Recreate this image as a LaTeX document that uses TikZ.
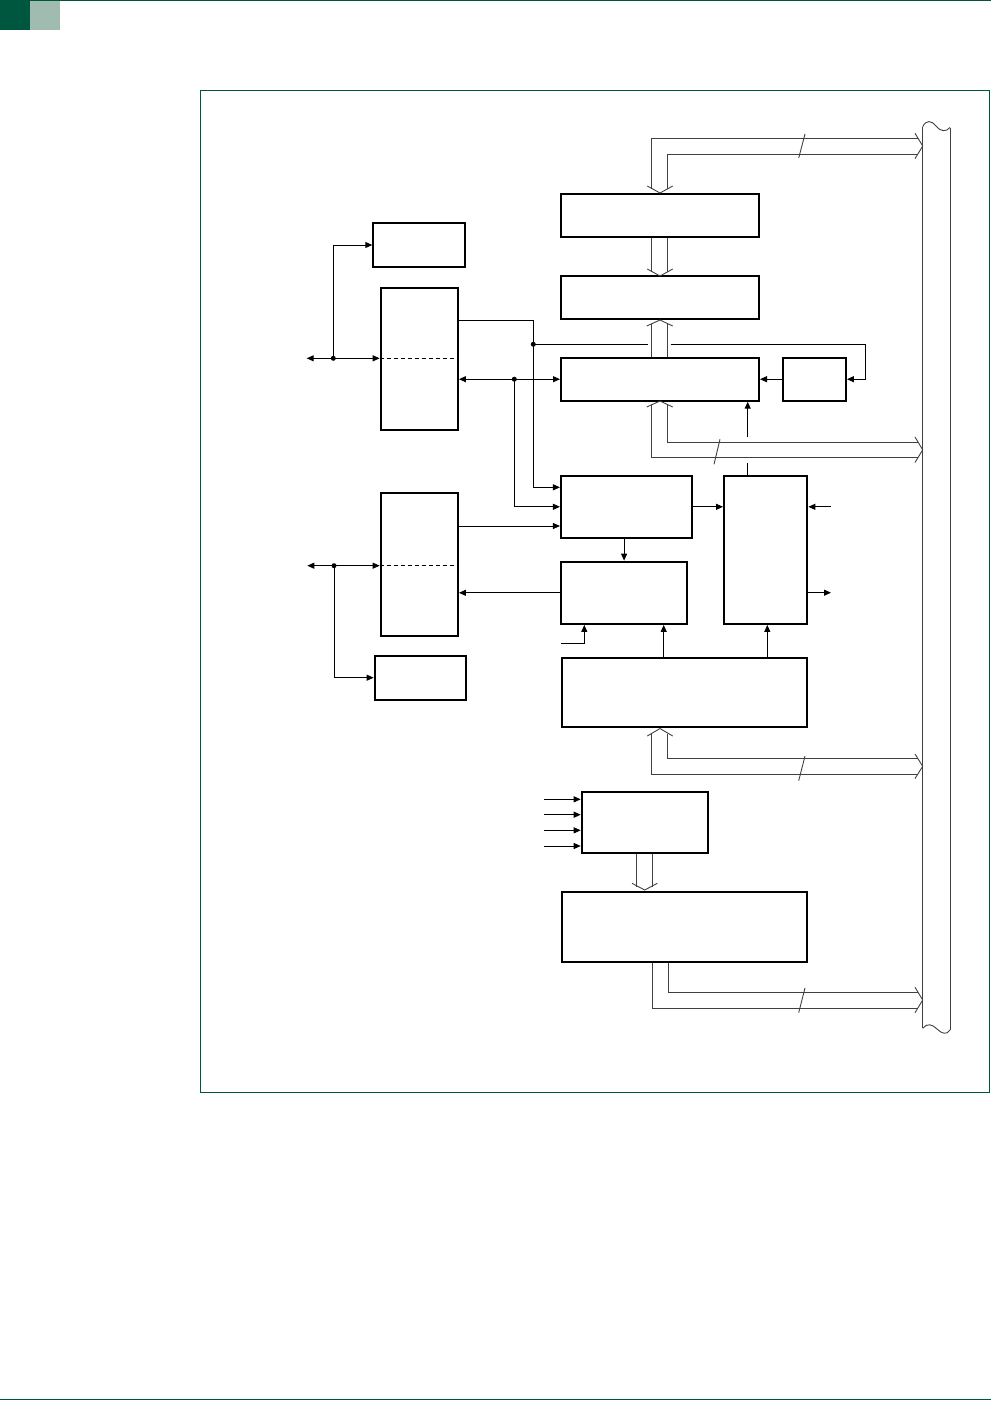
\documentclass[tikz,border=0pt]{standalone}
\usetikzlibrary{arrows.meta}
\definecolor{dkgreen}{HTML}{00573F}
\definecolor{ltgreen}{HTML}{A0BCB0}
\begin{document}
\begin{tikzpicture}[x=1pt,y=-1pt,
 box/.style={draw,line width=2pt,inner sep=0pt},
 conn/.style={line width=1pt},
 arr/.style={conn,-{Triangle[length=7pt,width=6pt]}},
 arrboth/.style={conn,{Triangle[length=7pt,width=6pt]}-{Triangle[length=7pt,width=6pt]}},
 busline/.style={line width=0.9pt,black!75},
 dashline/.style={line width=1pt,dash pattern=on 4pt off 3pt}]
\useasboundingbox (0,0) rectangle (991,1401);
% header and frame
\fill[dkgreen] (0,0) rectangle (30,30);
\fill[ltgreen] (30,0) rectangle (60,30);
\draw[dkgreen,line width=1.2pt] (0,0.6) -- (991,0.6);
\draw[dkgreen,line width=1pt] (0,1399.5) -- (991,1399.5);
\draw[dkgreen,line width=1pt] (200.5,90.5) rectangle (989.5,1092.5);

% boxes
\node[box,minimum width=198pt,minimum height=43pt] (A) at (660,215.5) {};
\node[box,minimum width=198pt,minimum height=43pt] (B) at (660,297.5) {};
\node[box,minimum width=92pt,minimum height=44pt] (C) at (419.3,245) {};
\node[box,minimum width=77.3pt,minimum height=142pt] (D) at (419.3,359) {};
\node[box,minimum width=198pt,minimum height=43pt] (F) at (660,379.2) {};
\node[box,minimum width=63.3pt,minimum height=43pt] (G) at (814.3,379.2) {};
\node[box,minimum width=131.3pt,minimum height=62.3pt] (E) at (626.6,506.8) {};
\node[box,minimum width=83.3pt,minimum height=148.3pt] (H) at (765.7,549.8) {};
\node[box,minimum width=126.3pt,minimum height=62.3pt] (I) at (624.1,592.8) {};
\node[box,minimum width=77.3pt,minimum height=142.4pt] (D2) at (419.3,564.5) {};
\node[box,minimum width=91.3pt,minimum height=44pt] (K) at (420.3,677.7) {};
\node[box,minimum width=245.3pt,minimum height=69pt] (J) at (684.6,692.8) {};
\node[box,minimum width=126.6pt,minimum height=61pt] (L) at (645,822.2) {};
\node[box,minimum width=245.6pt,minimum height=70pt] (M) at (684.5,927) {};

% named points
\coordinate (dl1) at (333.3,358.3);
\coordinate (ll1) at (306.7,358.3);
\coordinate (dl2) at (334,565.7);
\coordinate (ll2) at (307.3,565.7);
\coordinate (j1) at (533.3,344.3);
\coordinate (j2) at (514.3,379.2);
\coordinate (hin) at (831,506.8);
\coordinate (hout) at (831,592.7);
\coordinate (iin) at (561,643.3);

% dashed dividers
\draw[dashline] (D.west |- dl1) -- (D.east |- dl1);
\draw[dashline] (D2.west |- dl2) -- (D2.east |- dl2);

% left connectors
\draw[arrboth] (ll1) -- (D.west |- dl1);
\draw[arr] (dl1) |- (C.west);
\fill (dl1) circle (2.5pt);
\draw[arrboth] (ll2) -- (D2.west |- dl2);
\draw[arr] (dl2) |- (K.west);
\fill (dl2) circle (2.5pt);

% D to E and the bus line
\draw[arr] (D.east |- 0,320) -| (j1) |- (E.west |- 0,487.3);
\fill (j1) circle (2.5pt);
\draw[conn] (j1) -- (647.7,344.3);
\draw[arr] (670.7,344.3) -| (865.7,379.2) -- (G.east);
\draw[arrboth] (D.east |- F.west) -- (F.west);
\draw[arr] (j2) |- (E.west);
\fill (j2) circle (2.5pt);
\draw[arr] (D2.east |- 0,526) -- (E.west |- 0,526);
\draw[arr] (G.west) -- (F.east);

% middle connectors
\draw[arr] (E.east) -- (H.west |- E.east);
\draw[arr] (hin) -- (H.east |- hin);
\draw[arr] (H.east |- hout) -- (hout);
\draw[arr] (I.north |- E.south) -- (I.north);
\draw[arr] (I.west) -- (D2.east |- I.west);
\draw[arr] (iin) -| (I.south -| 584.3,0);
\draw[arr] (J.north -| 663.7,0) -- (I.south -| 663.7,0);
\draw[arr] (J.north -| 767.3,0) -- (H.south -| 767.3,0);
\draw[conn] (H.north -| 747.7,0) -- (747.7,463.3);
\draw[arr] (747.7,437.3) -- (F.south -| 747.7,0);

% inputs to L
\foreach \yy in {799.3,814.7,830.3,846}
  \draw[arr] (544,\yy) -- (L.west |- 0,\yy);

% hollow bus arrows
% (a) A top to bus
\draw[busline] (651.7,188.5) -- (651.7,138.3) -- (918,138.3);
\draw[busline] (667.7,188.5) -- (667.7,154) -- (918,154);
\draw[busline] (647.3,186) -- (660,193) -- (672.7,186);
\draw[busline] (915,133.3) -- (922.7,146) -- (915,158.7);
\draw[busline] (805,134) -- (798.7,158);
% (b) A to B
\draw[busline] (651.7,238) -- (651.7,271.5);
\draw[busline] (667.7,238) -- (667.7,271.5);
\draw[busline] (647.3,269) -- (660,276) -- (672.7,269);
% (c) F to B
\draw[busline] (651.7,357) -- (651.7,323.7);
\draw[busline] (667.7,357) -- (667.7,323.7);
\draw[busline] (646.7,326) -- (660,320) -- (672.7,326);
% (d) F bottom to bus
\draw[busline] (646.7,407) -- (660,401) -- (672.7,407);
\draw[busline] (651.7,404.7) -- (651.7,457.7) -- (918,457.7);
\draw[busline] (667.7,404.7) -- (667.7,442) -- (918,442);
\draw[busline] (915,437) -- (922.7,449.8) -- (915,462.5);
\draw[busline] (720,439.3) -- (714,464.3);
% (e) J bottom to bus
\draw[busline] (647.3,736) -- (660,728.5) -- (672.7,736);
\draw[busline] (651,733.5) -- (651,774.3) -- (918,774.3);
\draw[busline] (667.3,733.5) -- (667.3,758.3) -- (918,758.3);
\draw[busline] (915,754) -- (922.7,766.3) -- (915,778.6);
\draw[busline] (805,756) -- (798.7,780.7);
% (f) L to M
\draw[busline] (636.7,853.7) -- (636.7,886.5);
\draw[busline] (652.7,853.7) -- (652.7,886.5);
\draw[busline] (632,883.3) -- (644.7,890) -- (657.3,883.3);
% (g) M bottom to bus
\draw[busline] (652,963) -- (652,1008) -- (918,1008);
\draw[busline] (668,963) -- (668,992) -- (918,992);
\draw[busline] (915,987.3) -- (922.7,1000) -- (915,1012.7);
\draw[busline] (805,988) -- (798.7,1012.7);

% bus bar
\draw[busline] (922.7,126.7) -- (922.7,1028.3);
\draw[busline] (950,127.5) -- (950,1030);
\draw[busline] (922.7,126.7) .. controls (926,120) and (931,120) .. (936,126) .. controls (941,132) and (946,132) .. (950,127.5);
\draw[busline] (922.7,1028.3) .. controls (927,1023) and (932,1024) .. (937,1029) .. controls (942,1034) and (947,1035) .. (950,1030);
\end{tikzpicture}
\end{document}
